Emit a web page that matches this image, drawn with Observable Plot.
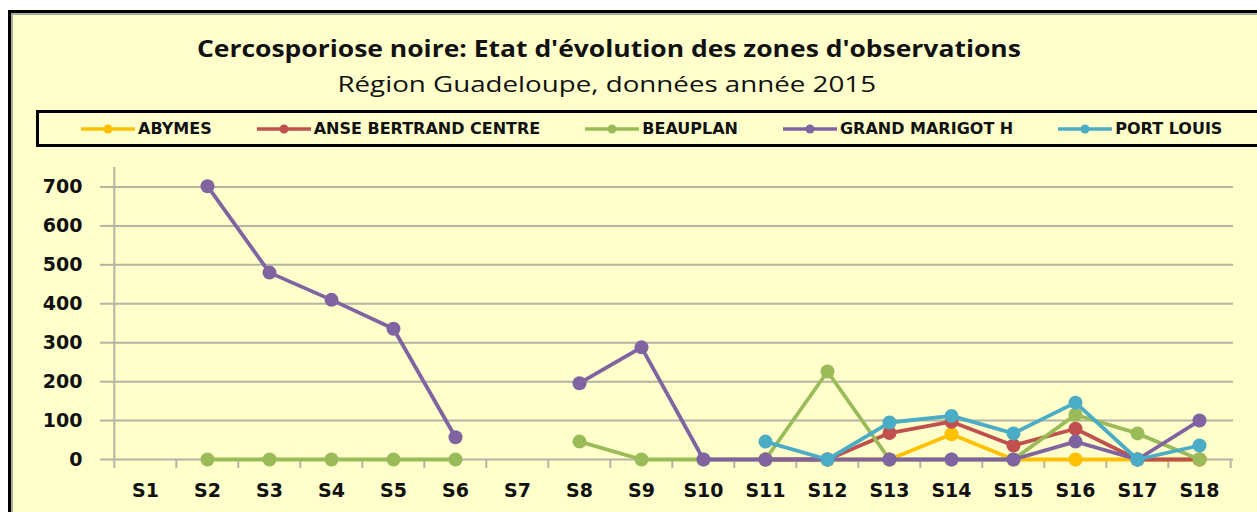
<!DOCTYPE html>
<html>
<head>
<meta charset="utf-8">
<script src="https://cdn.jsdelivr.net/npm/d3@7"></script>
<script src="https://cdn.jsdelivr.net/npm/@observablehq/plot@0.6"></script>
<style>
  html, body { margin: 0; padding: 0; background: #fff; }
  body { width: 1257px; height: 512px; overflow: hidden; position: relative; font-family: "DejaVu Sans", sans-serif; }
  #frame { position: absolute; left: 8px; top: 10px; width: 1300px; height: 600px; border: 3px solid #000;
           background: #FFFFCC; box-shadow: inset 2px 2px 0 #a9a9a0; }
  #title { position: absolute; left: 0; top: 36px; width: 1217px; text-align: center; font-weight: bold;
           font-size: 23.5px; line-height: 24px; color: #111; font-family: "Open Sans", sans-serif; }
  #title span { display: inline-block; transform: scaleX(1.126); transform-origin: 50% 50%; }
  #subtitle { position: absolute; left: 0; top: 72px; width: 1213px; text-align: center; font-size: 22px;
           line-height: 22px; color: #111; font-family: "Open Sans", sans-serif; }
  #subtitle span { display: inline-block; transform: scaleX(1.26); transform-origin: 50% 50%; }
  #legend { position: absolute; left: 36px; top: 110px; width: 1208px; height: 31px; border: 3px solid #000;
            display: flex; align-items: center; gap: 44px; padding-left: 41px; box-sizing: content-box; }
  .item { display: flex; align-items: center; font-weight: bold; font-size: 16px; color: #111; }
  .item svg { margin-right: 2px; }
  #chart { position: absolute; left: 0; top: 160px; }
</style>
</head>
<body>
<div id="frame"></div>
<div id="title"><span>Cercosporiose noire: Etat d'évolution des zones d'observations</span></div>
<div id="subtitle"><span>Région Guadeloupe, données année 2015</span></div>
<div id="legend"></div>
<div id="chart"></div>
<script>
const weeks = ["S1","S2","S3","S4","S5","S6","S7","S8","S9","S10","S11","S12","S13","S14","S15","S16","S17","S18"];
const seriesNames = ["ABYMES","ANSE BERTRAND CENTRE","BEAUPLAN","GRAND MARIGOT H","PORT LOUIS"];
const seriesColors = ["#FFC000","#C0504D","#9BBB59","#8064A2","#4BACC6"];
const abymes       = [null,null,null,null,null,null,null,null,null,null,0,0,0,65,0,0,0,0];
const anseBertrand = [null,null,null,null,null,null,null,null,null,null,0,0,68,97,36,79,0,0];
const beauplan     = [null,0,0,0,0,0,null,46,0,0,0,226,0,0,0,115,67,0];
const grandMarigot = [null,702,480,410,336,57,null,196,288,0,0,0,0,0,0,46,0,100];
const portLouis    = [null,null,null,null,null,null,null,null,null,null,46,0,95,112,67,146,0,36];
const seriesValues = [abymes, anseBertrand, beauplan, grandMarigot, portLouis];
const yTicks = [0,100,200,300,400,500,600,700];

// legend
const legend = document.getElementById("legend");
seriesNames.forEach((name, i) => {
  const item = document.createElement("div");
  item.className = "item";
  item.innerHTML = `<svg width="56" height="12"><line x1="1" x2="55" y1="6" y2="6" stroke="${seriesColors[i]}" stroke-width="3.5"/><circle cx="28" cy="6" r="4.5" fill="${seriesColors[i]}"/></svg><span>${name}</span>`;
  legend.appendChild(item);
});

const W = 1257, H = 352, ML = 110, MR = 24, MT = 7, MB = 53;
const step = (W - ML - MR) / weeks.length;
const axisColor = "#b4b4a4";

const rows = [];
seriesNames.forEach((s, i) => weeks.forEach((w, j) => {
  const v = seriesValues[i][j];
  rows.push({series: s, week: w, value: v == null ? NaN : v});
}));

const seriesMarks = seriesNames.flatMap((s, i) => {
  const d = rows.filter(r => r.series === s);
  return [
    Plot.line(d, {x: "week", y: "value", stroke: seriesColors[i], strokeWidth: 3.8}),
    Plot.dot(d.filter(r => !isNaN(r.value)), {x: "week", y: "value", fill: seriesColors[i], r: 7})
  ];
});

const chart = Plot.plot({
  width: W, height: H,
  marginLeft: ML, marginRight: MR, marginTop: MT, marginBottom: MB,
  style: {background: "transparent", overflow: "visible", fontFamily: "DejaVu Sans, sans-serif"},
  x: {type: "point", domain: weeks, padding: 0.5},
  y: {domain: [0, 750]},
  marks: [
    Plot.gridY(yTicks.filter(t => t > 0), {stroke: axisColor, strokeOpacity: 1, strokeWidth: 2}),
    Plot.ruleY([0], {stroke: axisColor, strokeWidth: 2}),
    Plot.ruleX(["S1"], {x: d => d, dx: -step / 2, y1: 750, y2: 0, insetBottom: -9, stroke: axisColor, strokeWidth: 2}),
    Plot.ruleX(weeks.slice(1), {x: d => d, dx: -step / 2, y1: 0, y2: 0, insetBottom: -9, stroke: axisColor, strokeWidth: 2}),
    Plot.ruleX(["S18"], {x: d => d, dx: step / 2, y1: 0, y2: 0, insetBottom: -9, stroke: axisColor, strokeWidth: 2}),
    Plot.axisY({ticks: yTicks, tickSize: 10, tickPadding: 18, stroke: axisColor, strokeWidth: 2, fill: "#111", fontSize: 19, fontWeight: "bold", label: null}),
    Plot.axisX({ticks: weeks, tickSize: 0, tickPadding: 24, fill: "#111", fontSize: 19, fontWeight: "bold", label: null}),
    ...seriesMarks
  ]
});
document.getElementById("chart").appendChild(chart);
</script>
</body>
</html>
